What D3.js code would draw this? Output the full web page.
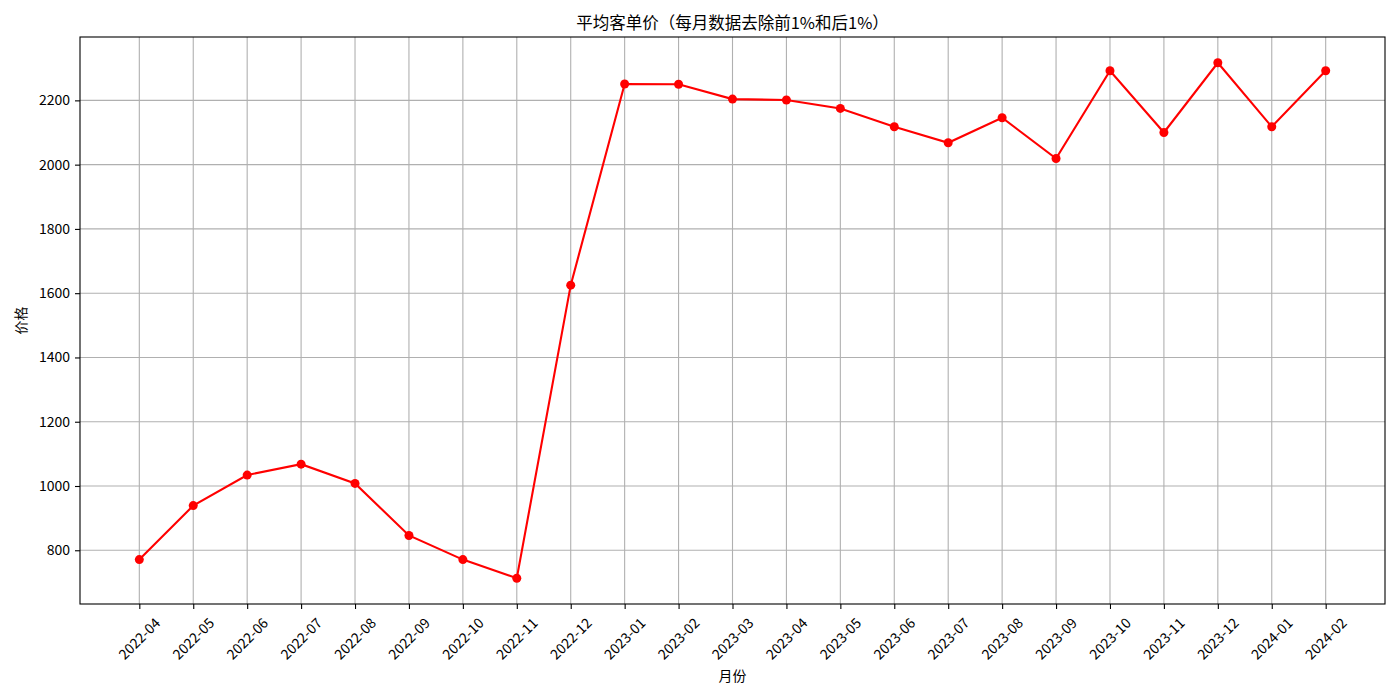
<!DOCTYPE html>
<html><head><meta charset="utf-8">
<script src="https://cdn.jsdelivr.net/npm/d3@7"></script>
<style>
body{margin:0;background:#fff;}
text{font-family:"Noto Sans CJK SC","Noto Sans",sans-serif;fill:#000;}
</style></head>
<body><svg id="c" width="1400" height="700"></svg>
<script>
const months = ["2022-04","2022-05","2022-06","2022-07","2022-08","2022-09","2022-10","2022-11","2022-12",
"2023-01","2023-02","2023-03","2023-04","2023-05","2023-06","2023-07","2023-08","2023-09","2023-10","2023-11","2023-12","2024-01","2024-02"];
const prices = [771,939,1034,1068,1008,846,771,713,1625,2251,2250,2204,2201,2175,2118,2068,2146,2019,2292,2100,2317,2118,2292];
const yTicks = [800,1000,1200,1400,1600,1800,2000,2200];
const title = "平均客单价（每月数据去除前1%和后1%）";
const xLabel = "月份", yLabel = "价格";

const svg = d3.select("#c");
const L=80,R=1385,T=37,B=604;
const n = months.length;
const x = d3.scaleLinear().domain([-0.05*(n-1), (n-1)*1.05]).range([L,R]);
const ymin=d3.min(prices), ymax=d3.max(prices), pad=(ymax-ymin)*0.05;
const y = d3.scaleLinear().domain([ymin-pad, ymax+pad]).range([B,T]);

const g = svg.append("g");
// grid
g.selectAll(".vg").data(months).join("line")
 .attr("x1",(d,i)=>x(i)).attr("x2",(d,i)=>x(i)).attr("y1",T).attr("y2",B)
 .attr("stroke","#b0b0b0").attr("stroke-width",1.1);
g.selectAll(".hg").data(yTicks).join("line")
 .attr("x1",L).attr("x2",R).attr("y1",d=>y(d)).attr("y2",d=>y(d))
 .attr("stroke","#b0b0b0").attr("stroke-width",1.1);

// axes
const xAxis = d3.axisBottom(x).tickValues(d3.range(n)).tickFormat(i=>months[i]).tickSize(5).tickPadding(5);
const xg = svg.append("g").attr("transform",`translate(0,${B})`).call(xAxis);
xg.select(".domain").remove();
xg.selectAll(".tick line").attr("stroke","#000").attr("stroke-width",1.1);
xg.selectAll(".tick text").attr("font-size",14).attr("fill","#000")
  .attr("text-anchor","middle").attr("dominant-baseline","central")
  .attr("y",0).attr("dy",null)
  .attr("transform","translate(-1,34) rotate(-45)")
  .style("font-family",'"Noto Sans CJK SC",sans-serif');

const yAxis = d3.axisLeft(y).tickValues(yTicks).tickFormat(d3.format("d")).tickSize(5).tickPadding(5);
const yg = svg.append("g").attr("transform",`translate(${L},0)`).call(yAxis);
yg.select(".domain").remove();
yg.selectAll(".tick line").attr("stroke","#000").attr("stroke-width",1.1);
yg.selectAll(".tick text").attr("font-size",14).attr("fill","#000")
  .style("font-family",'"Noto Sans CJK SC",sans-serif');

// frame
svg.append("rect").attr("x",L).attr("y",T).attr("width",R-L).attr("height",B-T)
 .attr("fill","none").attr("stroke","#000").attr("stroke-width",1.1);

// line
const line = d3.line().x((d,i)=>x(i)).y(d=>y(d));
svg.append("path").datum(prices).attr("d",line).attr("fill","none")
 .attr("stroke","#ff0000").attr("stroke-width",2.1);
svg.selectAll(".pt").data(prices).join("circle")
 .attr("cx",(d,i)=>x(i)).attr("cy",d=>y(d)).attr("r",4.5).attr("fill","#ff0000");

// labels
svg.append("text").attr("x",(L+R)/2).attr("y",T-8).attr("text-anchor","middle")
 .attr("font-size",16.5).text(title);
svg.append("text").attr("x",(L+R)/2).attr("y",681).attr("text-anchor","middle")
 .attr("font-size",13.9).text(xLabel);
svg.append("text").attr("transform",`translate(26,${(T+B)/2}) rotate(-90)`).attr("text-anchor","middle")
 .attr("font-size",13.9).text(yLabel);
</script></body></html>
